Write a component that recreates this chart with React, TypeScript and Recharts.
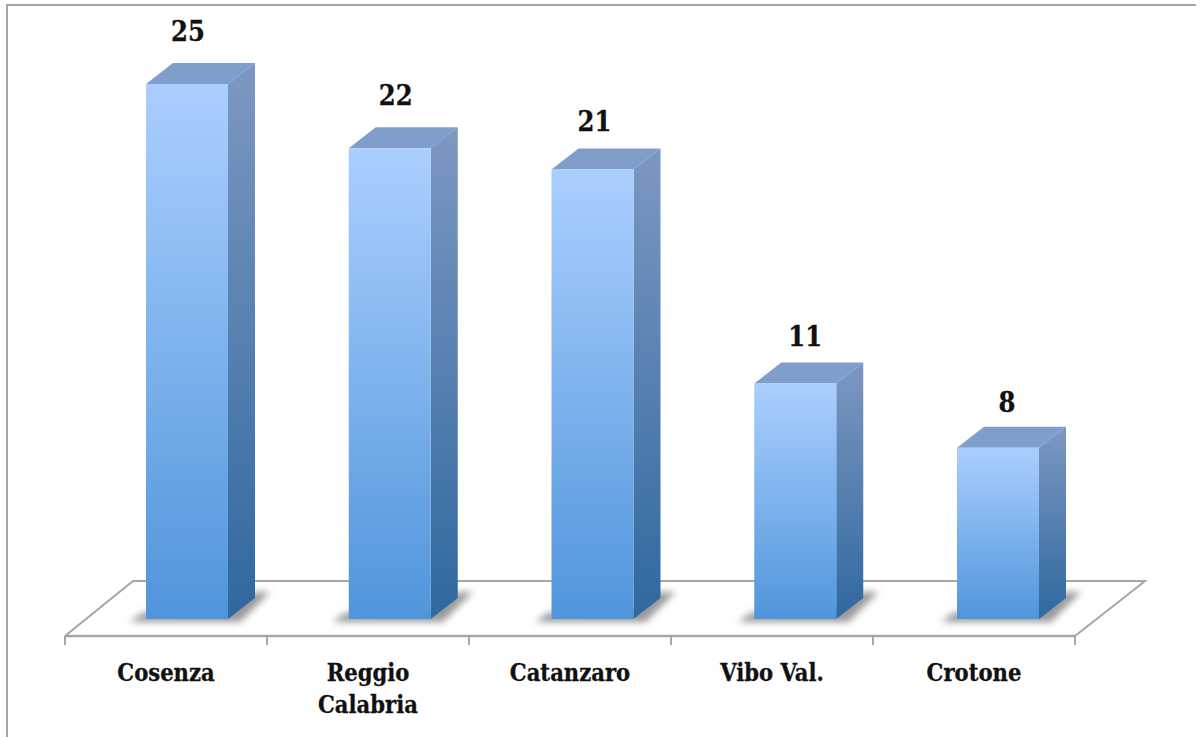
import React from 'react';
import { BarChart, Bar, XAxis, YAxis, usePlotArea } from 'recharts';

const categories = ['Cosenza', 'Reggio\nCalabria', 'Catanzaro', 'Vibo Val.', 'Crotone'];
const values = [25, 22, 21, 11, 8];
const labelNudgeX = [1, 6, 2, 10, 9];
const labelNudgeY = [0, 0, 4, 5, 7];
const rows = categories.map((name, i) => ({ name, value: values[i] }));

const FONT = '"DejaVu Serif Condensed", "DejaVu Serif", serif';
const SHIFT = 21; const DRIFT = 0.75; const DX = 27; const DY = 21;
const GRAY = '#a6a6a6';
const BAND = 202;

function Floor() {
  const p = usePlotArea();
  if (!p) return null;
  const b = p.y + p.height;
  const l = p.x; const r = p.x + p.width;
  return (
    <g>
      <path d={`M${l} ${b} L${l + 68} ${b - 55} L${r + 70} ${b - 55} L${r} ${b}`} fill="none" stroke={GRAY} strokeWidth={2} />
      <line x1={l} x2={r} y1={b} y2={b} stroke={GRAY} strokeWidth={2.5} />
    </g>
  );
}

function Defs() {
  return (
    <defs>
      <linearGradient id="front" x1="0" y1="0" x2="0" y2="1">
        <stop offset="0" stopColor="#abcfff" />
        <stop offset="1" stopColor="#5095db" />
      </linearGradient>
      <linearGradient id="side" x1="0" y1="0" x2="0" y2="1">
        <stop offset="0" stopColor="#7d98c2" />
        <stop offset="1" stopColor="#2f689f" />
      </linearGradient>
      <filter id="blur" x="-30%" y="-60%" width="160%" height="220%">
        <feGaussianBlur stdDeviation="3.5" />
      </filter>
    </defs>
  );
}

function Bar3D(props: any) {
  const { x, y, width, height, index } = props;
  const l = x + SHIFT + index * DRIFT; const r = l + width; const b = y + height;
  return (
    <g>
      <path d={`M${l - 16} ${b + 3} L${r + 12} ${b + 3} L${r + 42} ${b - DY - 6} L${r + DX} ${b - DY - 6} L${r} ${b - 10} L${l - 4} ${b - 6} Z`} fill="#999999" filter="url(#blur)" />
      <path d={`M${l} ${y} L${l + DX} ${y - DY} L${r + DX} ${y - DY} L${r} ${y} Z`} fill="#7f9ecb" />
      <path d={`M${r} ${y} L${r + DX} ${y - DY} L${r + DX} ${b - DY} L${r} ${b} Z`} fill="url(#side)" />
      <rect x={l} y={y} width={width} height={height} fill="url(#front)" />
    </g>
  );
}

function Tick(props: any) {
  const { x, y, payload, index } = props;
  const lines = String(payload.value).split('\n');
  const b = y;
  const last = index === categories.length - 1;
  return (
    <g>
      <line x1={x - BAND / 2} x2={x - BAND / 2} y1={b} y2={b + 9} stroke={GRAY} strokeWidth={2} />
      {last && <line x1={x + BAND / 2} x2={x + BAND / 2} y1={b} y2={b + 9} stroke={GRAY} strokeWidth={2} />}
      {lines.map((t, i) => (
        <text key={i} x={x} y={b + 45 + i * 32} textAnchor="middle" fontFamily={FONT} fontWeight={700} fontSize={23.5} fill="#111" stroke="#111" strokeWidth={0.3}>{t}</text>
      ))}
    </g>
  );
}

function BarLabel(props: any) {
  const { x, y, width, index, value } = props;
  return (
    <text x={x + SHIFT + index * DRIFT + width / 2 + labelNudgeX[index]} y={y - 43 + labelNudgeY[index]} textAnchor="middle" fontFamily={FONT} fontWeight={700} fontSize={27} fill="#111" stroke="#111" strokeWidth={0.3}>{value}</text>
  );
}

export default function App() {
  return (
    <div style={{ position: 'absolute', left: 0, top: 0, width: 1203, height: 738, background: '#fff', overflow: 'hidden' }}>
      <div style={{ position: 'absolute', left: 6, top: 4, right: 7, bottom: 1, borderLeft: `2px solid ${GRAY}`, borderTop: `2px solid ${GRAY}` }} />
      <div style={{ position: 'absolute', left: 0, top: 0 }}>
        <BarChart width={1203} height={738} data={rows} margin={{ top: 84, right: 128, bottom: 0, left: 65 }} barSize={82}>
          <Defs />
          <Floor />
          <XAxis dataKey="name" axisLine={false} tickLine={false} tick={<Tick />} tickSize={0} tickMargin={0} interval={0} height={102} />
          <YAxis hide domain={[-0.794, 25]} />
          <Bar dataKey="value" isAnimationActive={false} shape={<Bar3D />} label={<BarLabel />} />
        </BarChart>
      </div>
    </div>
  );
}
